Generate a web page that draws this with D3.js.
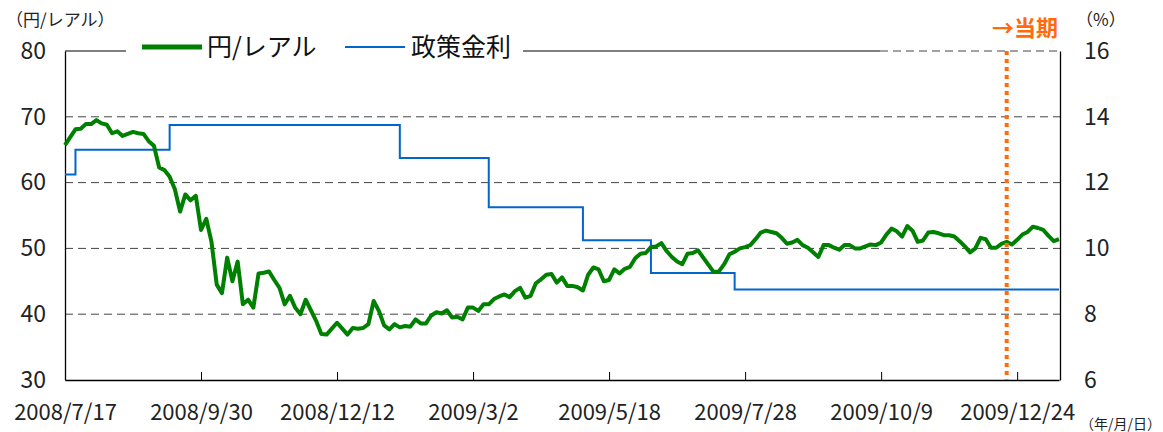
<!DOCTYPE html>
<html>
<head>
<meta charset="utf-8">
<script src="https://cdn.jsdelivr.net/npm/d3@7"></script>
<style>
  body { margin: 0; background: #fff; }
  text { font-family: "Noto Sans CJK JP", "Noto Sans", sans-serif; }
</style>
</head>
<body>
<div id="canvas"></div>
<script>
"use strict"

/* x axis: one step = about two business days */
let dateLabels = ["2008/7/17", "2008/9/30", "2008/12/12", "2009/3/2",
                  "2009/5/18", "2009/7/28", "2009/10/9", "2009/12/24"];
let dateTickIdx = [0, 26, 52, 78, 104, 130, 156, 182];

/* yen per real */
let yenReal = [
  65.7, 66.9, 68.1, 68.2, 68.9, 68.9, 69.5, 69.0, 68.8, 67.5,
  67.8, 67.1, 67.4, 67.7, 67.5, 67.4, 66.3, 65.6, 62.3, 61.9,
  60.9, 59.0, 55.6, 58.2, 57.3, 58.0, 52.8, 54.5, 51.0, 44.5,
  43.2, 48.6, 45.0, 48.0, 41.5, 42.2, 41.0, 46.2, 46.3, 46.5,
  45.2, 44.0, 41.5, 42.8, 41.0, 40.0, 42.2, 40.6, 39.0, 37.0,
  36.9, 37.8, 38.7, 37.8, 36.9, 37.9, 37.8, 37.9, 38.5, 42.0,
  40.5, 38.3, 37.7, 38.5, 38.0, 38.2, 38.1, 39.2, 38.6, 38.6,
  39.8, 40.3, 40.1, 40.6, 39.5, 39.6, 39.2, 41.0, 41.0, 40.5,
  41.5, 41.5, 42.3, 42.7, 43.0, 42.6, 43.5, 44.0, 42.5, 42.8,
  44.7, 45.3, 46.0, 46.1, 44.8, 45.6, 44.3, 44.3, 44.1, 43.6,
  46.0, 47.1, 46.8, 45.0, 45.2, 46.8, 46.2, 46.9, 47.2, 48.5,
  49.2, 49.3, 50.2, 50.3, 50.8, 49.6, 48.7, 48.0, 47.6, 49.2,
  49.3, 49.7, 48.6, 47.5, 46.4, 46.5, 47.6, 49.1, 49.5, 50.0,
  50.2, 50.5, 51.4, 52.4, 52.7, 52.5, 52.3, 51.6, 50.7, 50.9,
  51.3, 50.5, 50.1, 49.4, 48.7, 50.5, 50.5, 50.1, 49.8, 50.5,
  50.5, 50.0, 50.0, 50.3, 50.6, 50.5, 50.9, 52.1, 53.0, 52.6,
  51.8, 53.4, 52.7, 51.0, 51.2, 52.4, 52.5, 52.3, 52.0, 52.0,
  51.8, 51.1, 50.3, 49.4, 50.0, 51.6, 51.4, 50.1, 50.1, 50.7,
  51.0, 50.6, 51.3, 52.1, 52.5, 53.3, 53.1, 52.8, 51.9, 51.1,
  51.4
];

/* policy rate (%), step changes */
let rateIdx = [0, 2, 20, 64, 81, 99, 112, 128, 190];
let rateValue = [12.25, 13.00, 13.75, 12.75, 11.25, 10.25, 9.25, 8.75, 8.75];

let currentIdx = 180;

let leftTicks = [30, 40, 50, 60, 70, 80];
let rightTicks = [6, 8, 10, 12, 14, 16];

let drawing = d3.select("#canvas")
    .append("svg")
    .attr("width", 1163)
    .attr("height", 432);

let x = d3.scaleLinear().domain([0, yenReal.length - 1]).range([65, 1059]);
let yLeft = d3.scaleLinear().domain([30, 80]).range([380, 51]);
let yRight = d3.scaleLinear().domain([6, 16]).range([380, 51]);

/* dashed grid (the top one only on the right part) */
drawing.append("g")
    .selectAll("line")
    .data(leftTicks.slice(1))
    .join("line")
    .attr("x1", d => d == 80 ? 880 : 65)
    .attr("x2", 1060)
    .attr("y1", d => yLeft(d))
    .attr("y2", d => yLeft(d))
    .attr("stroke", "#444")
    .attr("stroke-width", 1)
    .attr("stroke-dasharray", "8,5");

/* solid part of the top edge */
drawing.append("line")
    .attr("x1", 65).attr("x2", 880)
    .attr("y1", 51).attr("y2", 51)
    .attr("stroke", "#000")
    .attr("stroke-width", 1.2);

/* axes */
let bottomAxis = drawing.append("g")
    .attr("transform", "translate(0,380)")
    .call(d3.axisBottom(x)
        .tickValues(dateTickIdx)
        .tickFormat((d, i) => dateLabels[i])
        .tickSizeInner(-8)
        .tickSizeOuter(0)
        .tickPadding(24));
bottomAxis.selectAll("text").attr("font-size", 22).attr("fill", "#222");

let leftAxis = drawing.append("g")
    .attr("transform", "translate(65,0)")
    .call(d3.axisLeft(yLeft).tickValues(leftTicks).tickSize(0).tickPadding(19));
leftAxis.selectAll("text").attr("font-size", 23).attr("fill", "#222");

let rightAxis = drawing.append("g")
    .attr("transform", "translate(1060,0)")
    .call(d3.axisRight(yRight).tickValues(rightTicks).tickSize(0).tickPadding(24));
rightAxis.selectAll("text").attr("font-size", 23).attr("fill", "#222");

drawing.selectAll(".domain").attr("stroke", "#000").attr("stroke-width", 1.3);

/* policy rate line */
let rateLine = d3.line()
    .x((d, i) => x(rateIdx[i]))
    .y(d => yRight(d))
    .curve(d3.curveStepAfter);

drawing.append("path")
    .datum(rateValue)
    .attr("d", rateLine)
    .attr("fill", "none")
    .attr("stroke", "#0066cc")
    .attr("stroke-width", 2);

/* yen / real line */
let yenLine = d3.line()
    .x((d, i) => x(i))
    .y(d => yLeft(d));

drawing.append("path")
    .datum(yenReal)
    .attr("d", yenLine)
    .attr("fill", "none")
    .attr("stroke", "#008000")
    .attr("stroke-width", 4)
    .attr("stroke-linejoin", "round");

/* current period marker */
drawing.append("line")
    .attr("x1", x(currentIdx))
    .attr("x2", x(currentIdx))
    .attr("y1", 51)
    .attr("y2", 380)
    .attr("stroke", "#ff6a0d")
    .attr("stroke-width", 4)
    .attr("stroke-dasharray", "4,4");

drawing.append("text")
    .attr("x", 1058)
    .attr("y", 36)
    .attr("text-anchor", "end")
    .attr("font-size", 22)
    .attr("font-weight", "bold")
    .attr("fill", "#ff6a0d")
    .text("→当期");

/* legend */
drawing.append("rect")
    .attr("x", 126).attr("y", 30)
    .attr("width", 397).attr("height", 34)
    .attr("fill", "#fff");

drawing.append("line")
    .attr("x1", 142).attr("x2", 202)
    .attr("y1", 47).attr("y2", 47)
    .attr("stroke", "#008000")
    .attr("stroke-width", 5);

drawing.append("text")
    .attr("x", 207).attr("y", 56)
    .attr("font-size", 25)
    .attr("fill", "#111")
    .text("円/レアル");

drawing.append("line")
    .attr("x1", 345).attr("x2", 405)
    .attr("y1", 47).attr("y2", 47)
    .attr("stroke", "#0066cc")
    .attr("stroke-width", 2);

drawing.append("text")
    .attr("x", 411).attr("y", 56)
    .attr("font-size", 25)
    .attr("fill", "#111")
    .text("政策金利");

/* unit labels */
drawing.append("text")
    .attr("x", 6).attr("y", 26)
    .attr("font-size", 17)
    .attr("fill", "#222")
    .text("（円/レアル）");

drawing.append("text")
    .attr("x", 1076).attr("y", 26)
    .attr("font-size", 17)
    .attr("fill", "#222")
    .text("（%）");

drawing.append("text")
    .attr("x", 1080).attr("y", 429)
    .attr("font-size", 14)
    .attr("fill", "#222")
    .text("（年/月/日）");
</script>
</body>
</html>
